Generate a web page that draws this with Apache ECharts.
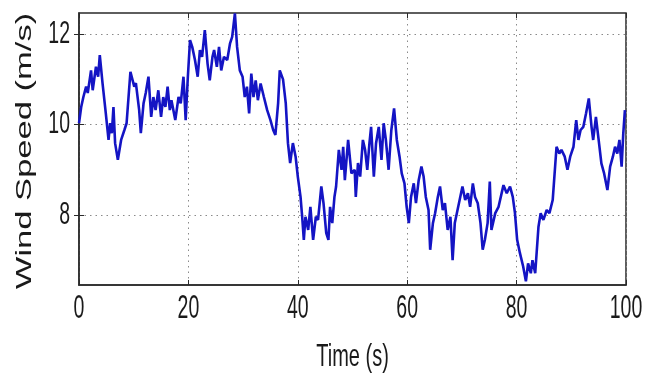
<!DOCTYPE html>
<html>
<head>
<meta charset="utf-8">
<script src="https://cdn.jsdelivr.net/npm/echarts@6/dist/echarts.min.js"></script>
<style>
  html, body { margin: 0; padding: 0; background: #fff; }
  #chart { width: 645px; height: 376px; }
</style>
</head>
<body>
<div id="chart"></div>
<script>
var timeS = [
  0.0, 0.4, 0.8, 1.3, 1.6, 2.2, 2.5, 3.1, 3.5, 3.8, 4.3, 4.9, 5.4, 5.7, 6.0, 6.3, 6.6, 7.1, 7.7, 8.3,
  8.7, 9.4, 10.1, 10.4, 11.0, 11.3, 11.8, 12.2, 12.7, 13.2, 13.6, 14.0, 14.5, 15.0, 15.4, 15.8, 16.2, 16.6, 16.9, 17.6,
  18.2, 18.6, 19.1, 19.5, 19.9, 20.3, 20.7, 21.2, 21.7, 22.1, 22.5, 23.0, 23.5, 23.9, 24.4, 24.7, 25.2, 25.6, 26.0, 26.5,
  27.1, 27.6, 28.0, 28.5, 28.9, 29.4, 29.9, 30.3, 30.7, 31.1, 31.5, 31.9, 32.3, 32.7, 33.2, 33.8, 34.4, 35.0, 35.5, 35.9,
  36.4, 36.7, 37.3, 37.8, 38.2, 38.6, 39.1, 39.6, 40.0, 40.5, 40.8, 41.1, 41.4, 41.9, 42.3, 42.8, 43.3, 43.7, 44.3, 44.7,
  45.2, 45.6, 45.9, 46.3, 46.7, 47.0, 47.5, 48.0, 48.3, 48.6, 49.2, 49.8, 50.4, 50.6, 51.0, 51.4, 51.9, 52.3, 52.7, 53.1,
  53.4, 53.9, 54.3, 54.8, 55.3, 55.7, 56.1, 56.6, 57.1, 57.6, 58.1, 58.6, 59.0, 59.5, 59.9, 60.3, 60.7, 61.2, 61.6, 62.1,
  62.6, 63.0, 63.4, 63.9, 64.2, 64.7, 65.1, 65.6, 66.0, 66.5, 66.9, 67.4, 67.9, 68.3, 68.7, 69.2, 69.7, 70.1, 70.6, 71.1,
  71.5, 72.0, 72.4, 72.9, 73.4, 73.8, 74.2, 74.7, 75.1, 75.4, 76.1, 76.7, 77.6, 78.2, 78.8, 79.3, 79.7, 80.1, 80.6, 81.2,
  81.7, 82.1, 82.6, 82.9, 83.4, 84.0, 84.4, 84.9, 85.5, 86.0, 86.6, 87.3, 87.8, 88.2, 88.8, 89.3, 89.8, 90.4, 90.9, 91.3,
  91.7, 92.2, 92.7, 93.2, 93.7, 94.0, 94.5, 95.0, 95.5, 96.0, 96.6, 97.1, 97.6, 98.0, 98.4, 98.8, 99.2, 99.5, 99.8
];
var windSpeed = [
  10.03, 10.39, 10.61, 10.84, 10.70, 11.20, 10.76, 11.28, 11.06, 11.54, 10.92, 10.25, 9.66, 10.03, 9.81, 10.39, 9.59, 9.22, 9.66, 9.88,
  10.03, 11.17, 10.84, 10.92, 10.32, 9.81, 10.47, 10.70, 11.06, 10.17, 10.61, 10.32, 10.76, 10.17, 10.61, 10.39, 10.84, 10.32, 10.54, 10.10,
  10.61, 10.47, 11.06, 10.10, 11.06, 11.87, 11.72, 11.43, 11.06, 11.65, 11.50, 12.09, 11.35, 10.98, 11.50, 11.65, 11.28, 11.72, 11.20, 11.50,
  11.43, 11.79, 11.94, 12.46, 11.72, 11.20, 11.06, 10.61, 10.84, 10.25, 11.13, 10.61, 10.98, 10.54, 10.91, 10.61, 10.32, 10.10, 9.88, 9.77,
  10.47, 11.20, 11.00, 10.47, 9.59, 9.15, 9.59, 9.29, 8.85, 8.40, 7.96, 7.45, 7.96, 7.67, 8.18, 7.45, 7.96, 7.89, 8.63, 8.26,
  7.60, 7.45, 8.18, 7.82, 8.40, 8.63, 9.44, 9.00, 9.51, 8.77, 9.66, 8.92, 9.00, 8.40, 9.15, 8.85, 9.66, 9.44, 9.00, 9.59,
  9.95, 8.85, 9.58, 9.95, 9.22, 10.03, 9.66, 9.00, 9.88, 10.36, 9.66, 9.29, 8.92, 8.70, 8.18, 7.82, 8.40, 8.70, 8.26, 8.77,
  9.07, 8.85, 8.40, 8.11, 7.23, 7.82, 8.04, 8.40, 8.63, 8.11, 8.26, 7.67, 7.96, 7.00, 7.82, 8.11, 8.40, 8.63, 8.33, 8.48,
  8.18, 8.70, 8.40, 8.26, 7.82, 7.23, 7.45, 7.82, 8.74, 7.67, 8.04, 8.18, 8.66, 8.48, 8.63, 8.40, 8.04, 7.45, 7.16, 6.86,
  6.53, 6.93, 6.71, 7.00, 6.71, 7.74, 8.04, 7.89, 8.11, 8.04, 8.33, 9.51, 9.36, 9.44, 9.29, 9.00, 9.29, 9.51, 10.10, 9.66,
  9.88, 9.95, 10.25, 10.58, 9.95, 9.66, 10.17, 9.66, 9.14, 8.92, 8.55, 9.07, 9.29, 9.51, 9.36, 9.66, 9.07, 9.80, 10.32
];
var yTicks = [8, 10, 12];
var xTicks = [0, 20, 40, 60, 80, 100];
var xName = 'Time (s)';
var yName = 'Wind Speed (m/s)';
var yMin = 6.45, yMax = 12.47;

var chartDom = document.getElementById('chart');
var myChart = echarts.init(chartDom);

var points = [];
timeS.forEach(function (t, i) {
    points.push([t, windSpeed[i]]);
});

var gridDots = {
    show: true,
    lineStyle: {
        color: '#8a8a8a',
        width: 1,
        type: [1.5, 4]
    }
};
var inTick = { show: true, inside: true, length: 5, lineStyle: { color: '#2a2a2a' } };

var option = {
    animation: false,
    backgroundColor: '#fff',
    grid: {
        left: 79,
        right: 19,
        top: 13,
        bottom: 91,
        show: true,
        borderColor: '#2a2a2a',
        borderWidth: 1.5
    },
    xAxis: [
        {
            type: 'value',
            min: 0,
            max: 100,
            interval: 20,
            axisLine: { show: true, lineStyle: { color: '#2a2a2a', width: 1.5 } },
            axisTick: inTick,
            axisLabel: { show: false },
            splitLine: gridDots
        },
        {
            type: 'value',
            position: 'top',
            min: 0,
            max: 100,
            interval: 20,
            axisLine: { show: false },
            axisTick: inTick,
            axisLabel: { show: false },
            splitLine: { show: false }
        }
    ],
    yAxis: [
        {
            type: 'value',
            min: yMin,
            max: yMax,
            axisLine: { show: true, lineStyle: { color: '#2a2a2a', width: 1.5 } },
            axisTick: Object.assign({ customValues: yTicks }, inTick),
            axisLabel: { show: false, customValues: yTicks },
            splitLine: gridDots
        },
        {
            type: 'value',
            position: 'right',
            min: yMin,
            max: yMax,
            axisLine: { show: false },
            axisTick: Object.assign({ customValues: yTicks }, inTick),
            axisLabel: { show: false },
            splitLine: { show: false }
        }
    ],
    series: [
        {
            name: 'Wind Speed',
            type: 'line',
            xAxisIndex: 0,
            yAxisIndex: 0,
            data: points,
            showSymbol: false,
            symbol: 'none',
            lineStyle: {
                color: '#1414c4',
                width: 2.6
            }
        }
    ]
};

option && myChart.setOption(option);

// the source figure has tall, squeezed lettering, so labels are drawn as stretched text
function px(v) { return myChart.convertToPixel({ xAxisIndex: 0 }, v); }
function py(v) { return myChart.convertToPixel({ yAxisIndex: 0 }, v); }

function label(text, x, y, align, size, sx, sy, rot) {
    return {
        type: 'text',
        x: x,
        y: y,
        scaleX: sx,
        scaleY: sy,
        rotation: rot || 0,
        silent: true,
        style: {
            text: text,
            font: size + 'px "Liberation Sans", Arial, sans-serif',
            fill: '#1a1a1a',
            align: align,
            textAlign: align,
            verticalAlign: 'middle',
            textVerticalAlign: 'middle'
        }
    };
}

var bottomPx = py(yMin);
var leftPx = px(0);
var graphics = [];
xTicks.forEach(function (v) {
    graphics.push(label(String(v), px(v), bottomPx + 24, 'center', 19.5, 1, 1.7));
});
yTicks.forEach(function (v) {
    graphics.push(label(String(v), leftPx - 9, py(v), 'right', 19.5, 1, 1.6));
});
graphics.push(label(xName, (px(0) + px(100)) / 2, bottomPx + 72, 'center', 20, 1, 1.55));
graphics.push(label(yName, 25, (py(yMin) + py(yMax)) / 2 + 2, 'center', 22, 1.57, 1, Math.PI / 2));

myChart.setOption({ graphic: graphics });
</script>
</body>
</html>
